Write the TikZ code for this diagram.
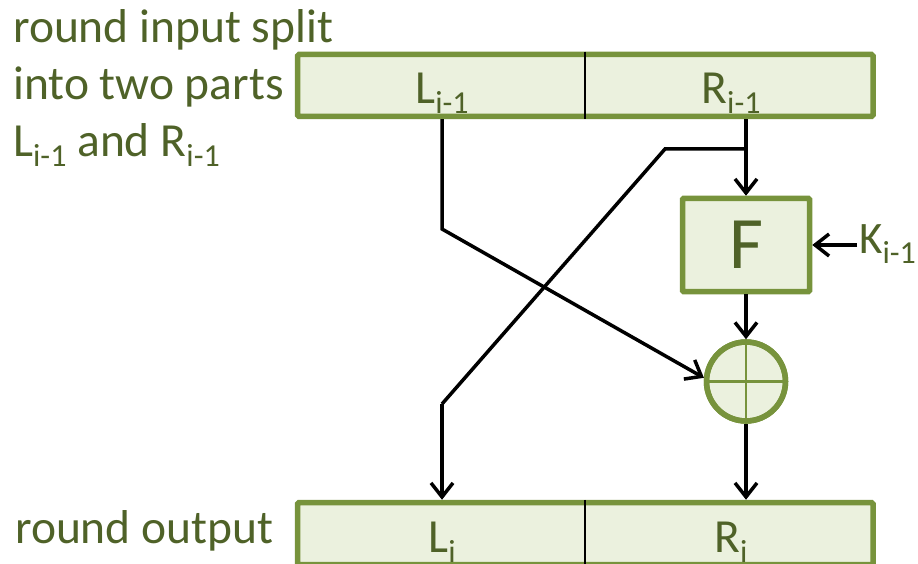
\documentclass[tikz,border=0pt]{standalone}
\usepackage{fontspec}
\setmainfont{Carlito}
\usetikzlibrary{arrows.meta}
\definecolor{txtgreen}{HTML}{4F6228}
\definecolor{boxfill}{HTML}{EBF1DE}
\definecolor{boxline}{HTML}{77933C}
\newcommand\lsub[1]{\raisebox{-10pt}{\fontsize{32pt}{32pt}\selectfont #1}}
\begin{document}
\begin{tikzpicture}[x=1pt,y=-1pt,
  lbl/.style={inner sep=0pt, text=txtgreen, font=\fontsize{47.5pt}{56pt}\selectfont},
  bar/.style={draw=boxline, fill=boxfill, line width=5.5pt, rounded corners=1.5pt, inner sep=0pt},
  conn/.style={draw=black, line width=3.5pt, -{Straight Barb[length=14pt,width=22pt]}},
  plain/.style={draw=black, line width=3.5pt},
  divider/.style={draw=black, line width=2.2pt},
  cross/.style={draw=boxline, line width=2.2pt},
]
\useasboundingbox (0,0) rectangle (918,564);
\clip (0,0) rectangle (918,564);

% side texts
\node[lbl, anchor=base west] (t1) at (13,43) {round input split};
\node[lbl, anchor=base west] (t2) at (13,100) {into two parts};
\node[lbl, anchor=base west] (t3) at (13,157) {L\lsub{i-1} and R\lsub{i-1}};
\node[lbl, anchor=base west] (t4) at (15,543) {round output};

% bars
\node[bar, minimum width=575.5pt, minimum height=62pt] (top) at (585.25,85.5) {};
\node[bar, minimum width=575.5pt, minimum height=62pt] (bot) at (585.25,533.5) {};
\coordinate (mid) at (585,0);
\draw[divider] (top.north -| mid) -- (top.south -| mid);
\draw[divider] (bot.north -| mid) -- (bot.south -| mid);

\node[lbl, anchor=base] (Lt) at (442,104) {L\lsub{i-1}};
\node[lbl, anchor=base] (Rt) at (731,104) {R\lsub{i-1}};
\node[lbl, anchor=base] (Lb) at (442,552) {L\lsub{i}};
\node[lbl, anchor=base] (Rb) at (731,552) {R\lsub{i}};

% F box and XOR
\node[bar, rounded corners=1pt, minimum width=127pt, minimum height=93pt,
      text=txtgreen, font=\fontsize{74pt}{74pt}\selectfont] (F) at (746,245) {F};
\node[draw=boxline, fill=boxfill, line width=5.5pt, circle, minimum size=79pt, inner sep=0pt] (X) at (746,381.5) {};
\draw[cross] (X.north) -- (X.south);
\draw[cross] (X.west) -- (X.east);
\draw[draw=boxline, line width=5.5pt] (X) circle[radius=39.5pt];

% key
\node[lbl, anchor=base west, font=\fontsize{45pt}{50pt}\selectfont] (K) at (859,253) {K\lsub{i-1}};

% coordinates
\coordinate (lx) at (442,0);
\coordinate (bendL) at (442,229);
\coordinate (split) at (746,149);
\coordinate (bendR) at (665,149);
\coordinate (bendB) at (442,404);
\coordinate (kstart) at (857,245);

% connectors
\draw[conn] (top.south -| lx) -- (bendL) -- (X.175);
\draw[conn] (top.south -| F) -- (F.north);
\draw[plain] (split) -- (bendR) -- (bendB);
\draw[conn] (bendB) -- (bendB |- bot.north);
\draw[conn] (F.south) -- (X.north);
\draw[conn] (X.south) -- (X |- bot.north);
\draw[conn] (kstart) -- (F.east);
\end{tikzpicture}
\end{document}
